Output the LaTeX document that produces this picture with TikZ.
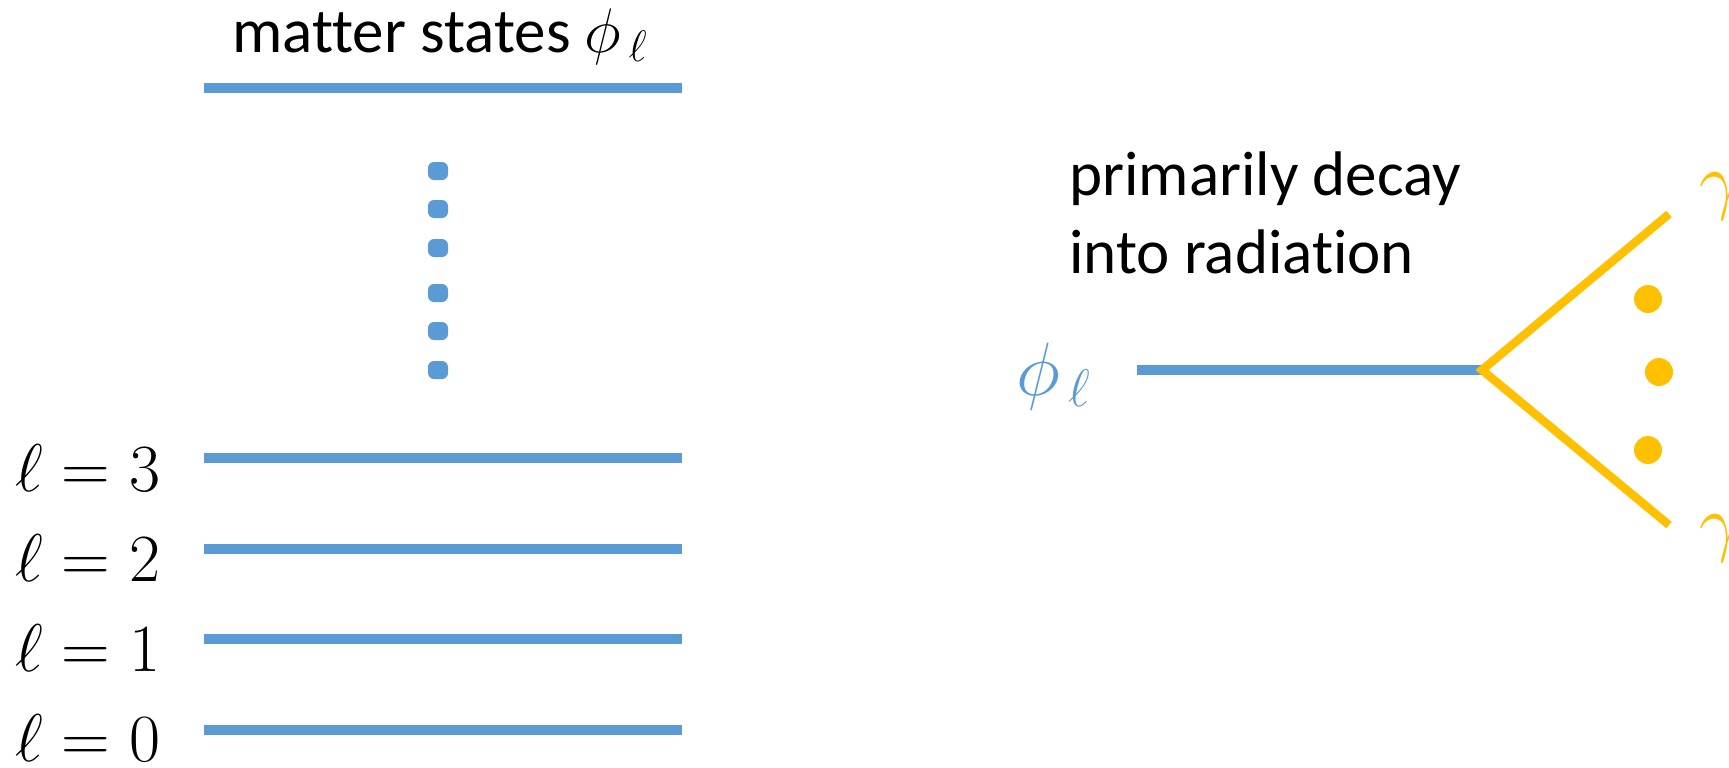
\RequirePackage{fix-cm}
\documentclass[tikz,border=0pt]{standalone}
\usepackage[no-math]{fontspec}
\setmainfont{Carlito}[Ligatures=CommonOff]
\definecolor{lvlblue}{HTML}{5B9BD5}
\definecolor{gold}{HTML}{FFC000}
\tikzset{
  level/.style={draw=lvlblue, line width=5.69pt},
  decayline/.style={draw=gold, line width=4.8pt, line join=miter},
  txt/.style={inner sep=0pt, font=\fontsize{35.85}{43.7}\selectfont, anchor=base west},
  lbl/.style={inner sep=0pt, font=\fontsize{38.4}{46}\selectfont, anchor=base west},
  bigmath/.style={inner sep=0pt, font=\fontsize{43}{50}\selectfont, anchor=base west},
  vdot/.style={rectangle, fill=lvlblue, rounded corners=0.12cm, minimum width=0.4cm, minimum height=0.36cm, inner sep=0pt},
  gdot/.style={circle, fill=gold, minimum size=0.56cm, inner sep=0pt},
}
\begin{document}
\begin{tikzpicture}[x=0.02cm, y=-0.02cm]
\fill[white] (0,0) rectangle (1729,768);
\useasboundingbox (0,0) rectangle (1729,768);

% title
\node[txt] (title) at (232,52) {matter states $\phi_{\,\ell}$};

% energy levels
\coordinate (Lta) at (204,88);  \coordinate (Ltb) at (682,88);
\coordinate (L3a) at (204,458); \coordinate (L3b) at (682,458);
\coordinate (L2a) at (204,549); \coordinate (L2b) at (682,549);
\coordinate (L1a) at (204,639); \coordinate (L1b) at (682,639);
\coordinate (L0a) at (204,730); \coordinate (L0b) at (682,730);
\draw[level] (Lta) -- (Ltb);
\draw[level] (L3a) -- (L3b);
\draw[level] (L2a) -- (L2b);
\draw[level] (L1a) -- (L1b);
\draw[level] (L0a) -- (L0b);

% level labels
\node[lbl] (l3) at (15,491) {$\ell = 3$};
\node[lbl] (l2) at (15,581) {$\ell = 2$};
\node[lbl] (l1) at (15,671) {$\ell = 1$};
\node[lbl] (l0) at (15,761) {$\ell = 0$};

% vertical dots
\node[vdot] (d1) at (438,171) {};
\node[vdot] (d2) at (438,209) {};
\node[vdot] (d3) at (438,248) {};
\node[vdot] (d4) at (438,293) {};
\node[vdot] (d5) at (438,331) {};
\node[vdot] (d6) at (438,370) {};

% decay
\node[txt] (pd1) at (1069,195) {primarily decay};
\node[txt] (pd2) at (1069,273) {into radiation};
\node[bigmath, text=lvlblue] (phi) at (1016,395) {$\phi_{\,\ell}$};

\coordinate (bstart) at (1137,370);
\coordinate (vtx) at (1482,370);
\coordinate (gu) at (1669,214);
\coordinate (gl) at (1669,525);
\draw[level] (bstart) -- (vtx);
\draw[decayline] (gu) -- (vtx) -- (gl);

\node[gdot] (g1) at (1648,299) {};
\node[gdot] (g2) at (1659,372) {};
\node[gdot] (g3) at (1648,450) {};

\node[bigmath, text=gold] (gam1) at (1699,205) {$\gamma$};
\node[bigmath, text=gold] (gam2) at (1699,547) {$\gamma$};
\end{tikzpicture}
\end{document}
